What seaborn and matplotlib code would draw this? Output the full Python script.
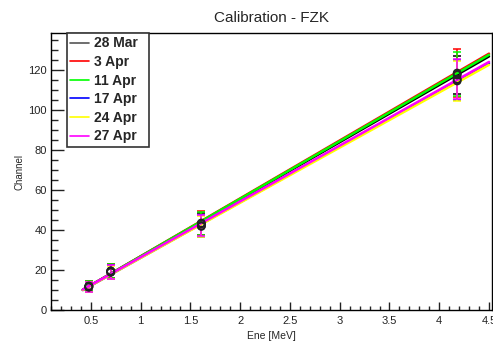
import numpy as np
import pandas as pd
import matplotlib
matplotlib.use("Agg")
import matplotlib.pyplot as plt
from matplotlib.lines import Line2D
from matplotlib.ticker import MultipleLocator
import seaborn as sns

# ---- data ----
labels = ["28 Mar", "3 Apr", "11 Apr", "17 Apr", "24 Apr", "27 Apr"]
colors = ["#000000", "#ff0000", "#00ff00", "#0000ff", "#ffff00", "#ff00ff"]
energies = [0.48, 0.70, 1.61, 4.18]
channels = {
    "28 Mar": [11.8, 19.3, 43.0, 117.5],
    "3 Apr": [12.0, 19.5, 43.5, 118.5],
    "11 Apr": [11.9, 19.6, 43.2, 118.0],
    "17 Apr": [11.5, 19.0, 42.0, 115.0],
    "24 Apr": [11.4, 18.8, 41.8, 114.5],
    "27 Apr": [11.6, 19.1, 42.2, 115.5],
}
errors = {
    "28 Mar": [2.5, 3.5, 5.5, 9.5],
    "3 Apr": [2.6, 3.6, 5.8, 12.0],
    "11 Apr": [2.5, 3.6, 5.7, 10.8],
    "17 Apr": [2.5, 3.5, 5.3, 10.0],
    "24 Apr": [2.4, 3.4, 5.2, 9.8],
    "27 Apr": [2.5, 3.5, 5.4, 10.2],
}
slopes = [28.6, 28.95, 28.8, 27.8, 27.6, 27.9]
intercepts = [-1.9, -2.1, -2.0, -1.7, -1.6, -1.5]
fit_range = (0.42, 4.5)

# ---- figure ----
sns.set_style("white")
plt.rcParams["font.family"] = ["Liberation Sans", "DejaVu Sans"]

W, H = 493, 344
fig = plt.figure(figsize=(W / 100, H / 100), dpi=100)
ax = fig.add_axes([51 / W, 1 - 310 / H, 441 / W, 277 / H])

xfit = np.linspace(fit_range[0], fit_range[1], 200)
for lab, col, a, b in zip(labels, colors, slopes, intercepts):
    ax.errorbar(energies, channels[lab], yerr=errors[lab], fmt="none",
                ecolor=col, elinewidth=1.1, capsize=3, capthick=1.1, zorder=2)
    df = pd.DataFrame({"E": xfit, "ch": a * xfit + b})
    sns.lineplot(data=df, x="E", y="ch", color=col, lw=1.8, ax=ax, zorder=3)
    pts = pd.DataFrame({"E": energies, "ch": channels[lab]})
    sns.scatterplot(data=pts, x="E", y="ch", marker="o", s=28,
                    facecolor="none", edgecolor="#222222", linewidth=1.0,
                    ax=ax, zorder=4)

ax.set_xlim(0.1, 4.53)
ax.set_ylim(0, 138.5)
ax.xaxis.set_major_locator(MultipleLocator(0.5))
ax.xaxis.set_minor_locator(MultipleLocator(0.1))
ax.yaxis.set_major_locator(MultipleLocator(20))
ax.yaxis.set_minor_locator(MultipleLocator(5))
ax.set_xticks([0.5, 1, 1.5, 2, 2.5, 3, 3.5, 4, 4.5])
ax.set_xticklabels(["0.5", "1", "1.5", "2", "2.5", "3", "3.5", "4", "4.5"])
ax.tick_params(axis="x", which="major", direction="in", length=6, width=1,
               labelsize=8, pad=4, colors="#222222", bottom=True)
ax.tick_params(axis="x", which="minor", direction="in", length=3, width=1,
               bottom=True)
ax.tick_params(axis="y", which="major", direction="in", length=9.4, width=1,
               labelsize=8, pad=3, colors="#222222", left=True)
ax.tick_params(axis="y", which="minor", direction="in", length=4.7, width=1,
               left=True)
for sp in ax.spines.values():
    sp.set_color("black")
    sp.set_linewidth(1)

ax.set_xlabel("Ene [MeV]", fontsize=7.5, labelpad=4)
ax.set_ylabel("Channel", fontsize=7, labelpad=3)
fig.text(271 / W, 1 - 18 / H, "Calibration - FZK", ha="center", va="center",
         fontsize=11)

handles = [Line2D([0], [0], color=c if c != "#000000" else "#555555", lw=1.2)
           for c in colors]
leg = ax.legend(handles, labels, loc="upper left",
                bbox_to_anchor=(15.5 / 441, 1 - 114 / 277, 82 / 441, 114 / 277),
                mode="expand", borderaxespad=0,
                frameon=True, fancybox=False,
                framealpha=1, edgecolor="#333333", borderpad=0.25,
                handlelength=1.4, handletextpad=0.3, labelspacing=0.33,
                prop={"weight": "bold", "size": 10})
leg.get_frame().set_linewidth(1.2)

fig.savefig("out.png", dpi=100)
